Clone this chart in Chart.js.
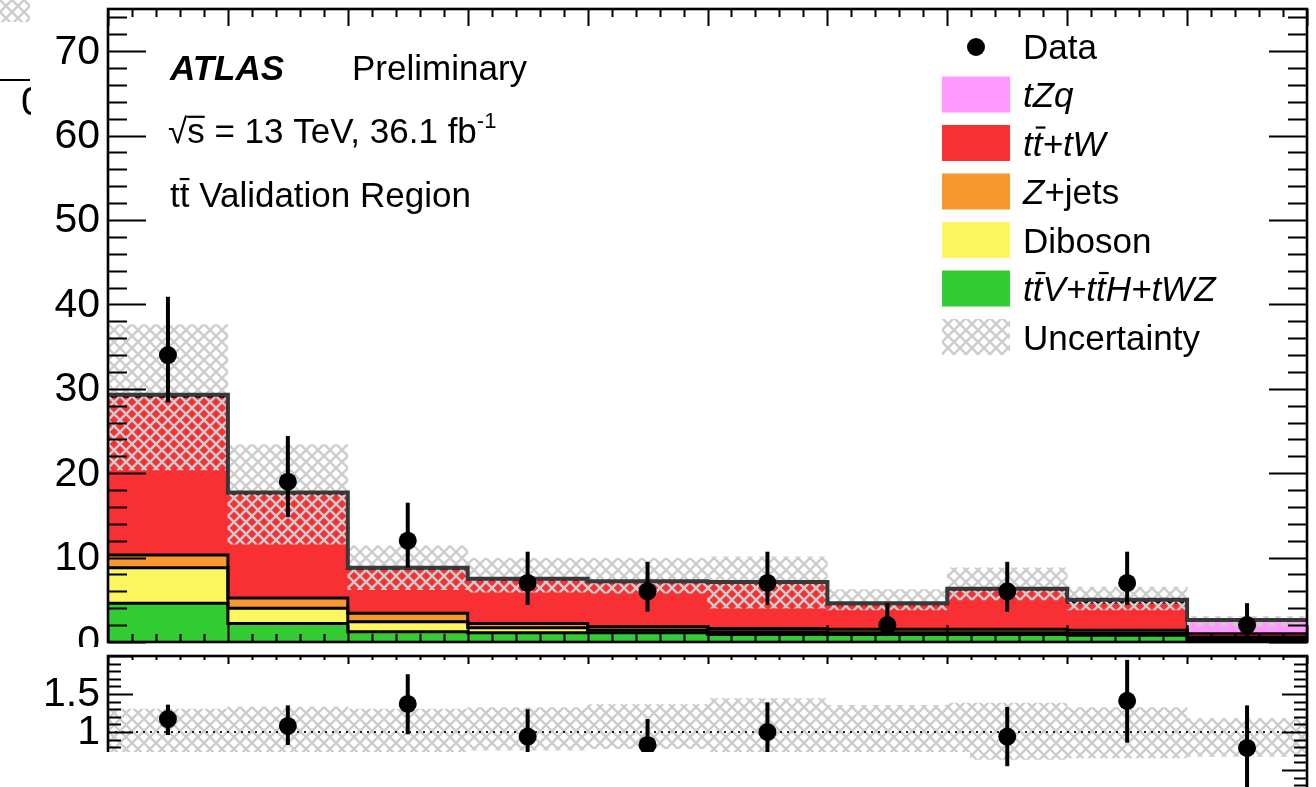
<!DOCTYPE html>
<html>
<head>
<meta charset="utf-8">
<script src="https://cdn.jsdelivr.net/npm/chart.js@4.4.0/dist/chart.umd.min.js"></script>
<style>
  html, body { margin: 0; padding: 0; background: #fff; overflow: hidden; width: 1316px; height: 787px; }
  #main { position: absolute; left: 0; top: 0; }
  #ratio { position: absolute; left: 0; top: 647px; background: #fff; }
  #crop { position: absolute; left: 0; top: 752px; width: 970px; height: 35px; background: #fff; }
</style>
</head>
<body>
<canvas id="main" width="1316" height="660"></canvas>
<canvas id="ratio" width="1316" height="170"></canvas>
<div id="crop"></div>
<script>
// bins (lower edges, unit width)
const binLow = [0, 1, 2, 3, 4, 5, 6, 7, 8, 9];

// stacked backgrounds, bottom to top
const ttvTth = [4.6, 2.2, 1.2, 1.1, 1.1, 0.9, 0.9, 0.9, 0.8, 0.3];
const diboson = [4.2, 1.8, 1.2, 0.6, 0.3, 0.3, 0.2, 0.2, 0.2, 0.1];
const zjets = [1.5, 1.2, 1.0, 0.5, 0.4, 0.4, 0.4, 0.4, 0.4, 0.2];
const ttbarTw = [18.8, 12.4, 5.3, 5.2, 5.3, 5.4, 3.0, 4.7, 3.3, 0.4];
const tzq = [0.2, 0.1, 0.1, 0.1, 0.1, 0.1, 0.1, 0.1, 0.3, 1.6];

// uncertainty band
const bandHi = [37.6, 23.4, 11.4, 9.9, 9.9, 10.1, 6.2, 8.8, 6.5, 3.0];
const bandLo = [20.4, 11.6, 6.2, 5.9, 5.8, 4.0, 3.8, 5.0, 3.8, 1.9];

// data
const dataCounts = [34, 19, 12, 7, 6, 7, 2, 6, 7, 2];
const dataHi = [40.9, 24.4, 16.5, 10.7, 9.5, 10.7, 4.6, 9.5, 10.7, 4.6];
const dataLo = [28.4, 14.8, 8.8, 4.4, 3.6, 4.4, 0.7, 3.6, 4.4, 0.7];

// ratio panel
const ratioVal = [1.17, 1.08, 1.37, 0.94, 0.83, 1.00, 0.43, 0.94, 1.41, 0.79];
const ratioHi = [1.36, 1.35, 1.76, 1.30, 1.17, 1.39, 0.72, 1.33, 1.95, 1.35];
const ratioLo = [0.96, 0.83, 0.97, 0.58, 0.50, 0.62, 0.15, 0.55, 0.86, 0.25];
const ratioBandHi = [1.30, 1.33, 1.30, 1.32, 1.36, 1.44, 1.35, 1.38, 1.32, 1.18];
const ratioBandLo = [0.70, 0.67, 0.68, 0.76, 0.78, 0.58, 0.62, 0.64, 0.66, 0.68];
const ratioRef = 1;

const yTicks = [0, 10, 20, 30, 40, 50, 60, 70];
const ratioTicks = [1, 1.5];

const FONT = '"Liberation Sans", Arial, Helvetica, sans-serif';
const colors = {
  ttv: '#33cc33', dib: '#fcf75e', zj: '#f7992f', tt: '#f83034', tzq: '#ff99ff'
};

function hatch() {
  const c = document.createElement('canvas');
  c.width = 12; c.height = 12;
  const g = c.getContext('2d');
  g.strokeStyle = '#cdcdcd';
  g.lineWidth = 2.4;
  g.beginPath();
  g.moveTo(-1, -1); g.lineTo(13, 13);
  g.moveTo(13, -1); g.lineTo(-1, 13);
  g.stroke();
  return g.createPattern(c, 'repeat');
}
const hatchPattern = hatch();

const centers = binLow.map(b => b + 0.5);
const barPts = arr => arr.map((v, i) => ({ x: centers[i], y: v }));
function cumulative(list) {
  return binLow.map((_, i) => list.reduce((s, a) => s + a[i], 0));
}
function stepPts(vals) {
  const pts = [];
  vals.forEach((v, i) => { pts.push({ x: binLow[i], y: v }); pts.push({ x: binLow[i] + 1, y: v }); });
  return pts;
}

const cumGreen = cumulative([ttvTth]);
const cumYellow = cumulative([ttvTth, diboson]);
const cumOrange = cumulative([ttvTth, diboson, zjets]);
const cumRed = cumulative([ttvTth, diboson, zjets, ttbarTw]);
const total = cumulative([ttvTth, diboson, zjets, ttbarTw, tzq]);

function stepLine(vals, color, w, order) {
  return { type: 'line', data: stepPts(vals), yAxisID: 'yo', borderColor: color, borderWidth: w,
    pointRadius: 0, fill: false, tension: 0, order: order };
}
function stackBar(vals, color, order) {
  return { type: 'bar', data: barPts(vals), backgroundColor: color, borderWidth: 0,
    barPercentage: 1, categoryPercentage: 1, order: order, yAxisID: 'y' };
}

function drawTicks(ctx, a, xs, ys, o) {
  ctx.save();
  ctx.strokeStyle = '#000';
  ctx.lineWidth = 2;
  const nx = Math.round((xs.max - xs.min) / o.xMinor);
  for (let k = 0; k <= nx; k++) {
    const v = xs.min + k * o.xMinor;
    const major = Math.abs(v / o.xMajor - Math.round(v / o.xMajor)) < 1e-6;
    const L = major ? o.xMajLen : o.xMinLen;
    const px = Math.round(xs.getPixelForValue(v)) + 0.5;
    ctx.beginPath();
    ctx.moveTo(px, a.bottom); ctx.lineTo(px, a.bottom - L);
    ctx.moveTo(px, a.top); ctx.lineTo(px, a.top + L);
    ctx.stroke();
  }
  const ny = Math.floor((ys.max - ys.min) / o.yMinor + 1e-6);
  for (let k = 0; k <= ny; k++) {
    const v = ys.min + k * o.yMinor;
    const major = Math.abs(v / o.yMajor - Math.round(v / o.yMajor)) < 1e-6;
    const L = major ? o.yMajLen : o.yMinLen;
    const py = Math.round(ys.getPixelForValue(v)) + 0.5;
    ctx.beginPath();
    ctx.moveTo(a.left, py); ctx.lineTo(a.left + L, py);
    ctx.moveTo(a.right, py); ctx.lineTo(a.right - L, py);
    ctx.stroke();
  }
  ctx.lineWidth = 2.6;
  ctx.strokeRect(a.left, a.top, a.right - a.left, a.bottom - a.top);
  ctx.restore();
}

function errorBars(chart, lo, hi, yScaleId) {
  const { ctx, chartArea: a, scales } = chart;
  const xs = scales.x, ys = scales[yScaleId];
  ctx.save();
  ctx.beginPath();
  ctx.rect(a.left, a.top, a.right - a.left, a.bottom - a.top);
  ctx.clip();
  ctx.strokeStyle = '#000';
  ctx.lineWidth = 4;
  centers.forEach((c, i) => {
    const px = xs.getPixelForValue(c);
    ctx.beginPath();
    ctx.moveTo(px, ys.getPixelForValue(lo[i]));
    ctx.lineTo(px, ys.getPixelForValue(hi[i]));
    ctx.stroke();
  });
  ctx.restore();
}

// rich text: list of runs {t, i, b, bar, up}
function richText(ctx, x, y, parts, size) {
  let cx = x;
  for (const p of parts) {
    const s = p.up ? Math.round(size * 0.62) : size;
    ctx.font = (p.i ? 'italic ' : '') + (p.b ? 'bold ' : '') + s + 'px ' + FONT;
    const dy = p.up ? -size * 0.42 : 0;
    ctx.fillText(p.t, cx, y + dy);
    const w = ctx.measureText(p.t).width;
    if (p.bar) {
      const off = p.i ? 3 : 0;
      ctx.fillRect(cx + off, y - size * (p.tall ? 0.83 : 0.78), w, 2.2);
    }
    cx += w;
  }
  return cx;
}

const mainDecor = {
  id: 'mainDecor',
  afterDatasetsDraw(chart) {
    errorBars(chart, dataLo, dataHi, 'yo');
  },
  afterDraw(chart) {
    const { ctx, chartArea: a, scales } = chart;
    drawTicks(ctx, a, scales.x, scales.yo, {
      xMinor: 0.2, xMajor: 1, xMajLen: 17, xMinLen: 8,
      yMinor: 2, yMajor: 10, yMajLen: 38, yMinLen: 19
    });
    ctx.save();
    ctx.fillStyle = '#000';
    ctx.font = '41px ' + FONT;
    ctx.textAlign = 'right';
    ctx.textBaseline = 'middle';
    yTicks.forEach(v => ctx.fillText(String(v), 100, scales.yo.getPixelForValue(v) + 1));

    // fragments of the neighbouring pad
    ctx.fillStyle = hatchPattern;
    ctx.fillRect(0, 0, 30, 22);
    ctx.fillStyle = '#000';
    ctx.fillRect(0, 79, 30, 2);
    ctx.save();
    ctx.beginPath(); ctx.rect(0, 84, 31, 40); ctx.clip();
    ctx.textAlign = 'left';
    ctx.fillText('0', 21, 104);
    ctx.restore();

    // labels
    ctx.textAlign = 'left';
    ctx.textBaseline = 'alphabetic';
    richText(ctx, 170, 80, [{ t: 'ATLAS', i: true, b: true }], 35);
    richText(ctx, 352, 80, [{ t: 'Preliminary' }], 35);
    richText(ctx, 168, 143, [{ t: '\u221A' }, { t: 's', bar: true }, { t: ' = 13 TeV, 36.1 fb' }, { t: '-1', up: true }], 35);
    richText(ctx, 170, 207, [{ t: 't' }, { t: 't', bar: true, tall: true }, { t: ' Validation Region' }], 35);

    // legend
    const lx = 942, lw = 68, lh = 36, tx = 1023, y0 = 46, dy = 48.5;
    const rows = [
      { mark: 'data', parts: [{ t: 'Data' }] },
      { fill: colors.tzq, parts: [{ t: 'tZq', i: true }] },
      { fill: colors.tt, parts: [{ t: 't', i: true }, { t: 't', i: true, bar: true, tall: true }, { t: '+tW', i: true }] },
      { fill: colors.zj, parts: [{ t: 'Z', i: true }, { t: '+jets' }] },
      { fill: colors.dib, parts: [{ t: 'Diboson' }] },
      { fill: colors.ttv, parts: [{ t: 't', i: true }, { t: 't', i: true, bar: true, tall: true }, { t: 'V+t', i: true },
        { t: 't', i: true, bar: true, tall: true }, { t: 'H+tWZ', i: true }] },
      { fill: hatchPattern, parts: [{ t: 'Uncertainty' }] }
    ];
    rows.forEach((r, k) => {
      const cy = y0 + k * dy;
      if (r.mark === 'data') {
        ctx.beginPath(); ctx.arc(lx + lw / 2, cy + 1, 9, 0, Math.PI * 2); ctx.fillStyle = '#000'; ctx.fill();
      } else {
        ctx.fillStyle = r.fill;
        ctx.fillRect(lx, cy - lh / 2, lw, lh);
      }
      ctx.fillStyle = '#000';
      richText(ctx, tx, cy + 12.5, r.parts, 35);
    });
    ctx.restore();
  }
};

const ratioDecor = {
  id: 'ratioDecor',
  afterDatasetsDraw(chart) {
    errorBars(chart, ratioLo, ratioHi, 'y');
  },
  afterDraw(chart) {
    const { ctx, chartArea: a, scales } = chart;
    drawTicks(ctx, a, scales.x, scales.y, {
      xMinor: 0.2, xMajor: 1, xMajLen: 8, xMinLen: 4,
      yMinor: 0.1, yMajor: 0.5, yMajLen: 25, yMinLen: 13
    });
    ctx.save();
    ctx.fillStyle = '#000';
    ctx.font = '41px ' + FONT;
    ctx.textAlign = 'right';
    ctx.textBaseline = 'middle';
    ratioTicks.forEach(v => ctx.fillText(String(v), 100, scales.y.getPixelForValue(v) + 1));
    ctx.restore();
  }
};

const xAxis = { type: 'linear', min: 0, max: 10, offset: false, stacked: true, display: false };

new Chart(document.getElementById('main'), {
  type: 'bar',
  data: {
    datasets: [
      { type: 'line', data: barPts(dataCounts), yAxisID: 'yo', showLine: false, pointRadius: 9,
        pointBackgroundColor: '#000', pointBorderWidth: 0, order: 0 },
      stepLine(total, '#383838', 4, 1),
      { type: 'bar', data: centers.map((c, i) => ({ x: c, y: [bandLo[i], bandHi[i]] })), yAxisID: 'yo',
        backgroundColor: hatchPattern, borderWidth: 0, barPercentage: 1, categoryPercentage: 1, order: 2 },
      stepLine(cumRed, '#000', 2.5, 3),
      stepLine(cumOrange, '#000', 3, 4),
      stepLine(cumYellow, '#000', 3, 5),
      stepLine(cumGreen, '#000', 3, 6),
      stackBar(ttvTth, colors.ttv, 7),
      stackBar(diboson, colors.dib, 8),
      stackBar(zjets, colors.zj, 9),
      stackBar(ttbarTw, colors.tt, 10),
      stackBar(tzq, colors.tzq, 11)
    ]
  },
  options: {
    responsive: false,
    animation: false,
    events: [],
    layout: { padding: { left: 108, top: 8, right: 7, bottom: 18 } },
    plugins: { legend: { display: false }, tooltip: { enabled: false } },
    scales: {
      x: xAxis,
      y: { min: 0, max: 75, stacked: true, display: false },
      yo: { min: 0, max: 75, display: false }
    }
  },
  plugins: [mainDecor]
});

new Chart(document.getElementById('ratio'), {
  type: 'bar',
  data: {
    datasets: [
      { type: 'line', data: barPts(ratioVal), showLine: false, pointRadius: 9,
        pointBackgroundColor: '#000', pointBorderWidth: 0, order: 0 },
      { type: 'line', data: [{ x: 0, y: ratioRef }, { x: 10, y: ratioRef }], borderColor: '#222',
        borderWidth: 2, borderDash: [2, 5], pointRadius: 0, order: 1 },
      { type: 'bar', data: centers.map((c, i) => ({ x: c, y: [ratioBandLo[i], ratioBandHi[i]] })),
        backgroundColor: hatchPattern, borderWidth: 0, barPercentage: 1, categoryPercentage: 1, order: 2 }
    ]
  },
  options: {
    responsive: false,
    animation: false,
    events: [],
    layout: { padding: { left: 108, top: 4, right: 7, bottom: 6 } },
    plugins: { legend: { display: false }, tooltip: { enabled: false } },
    scales: {
      x: xAxis,
      y: { min: 0, max: 2, display: false }
    }
  },
  plugins: [ratioDecor]
});
</script>
</body>
</html>
